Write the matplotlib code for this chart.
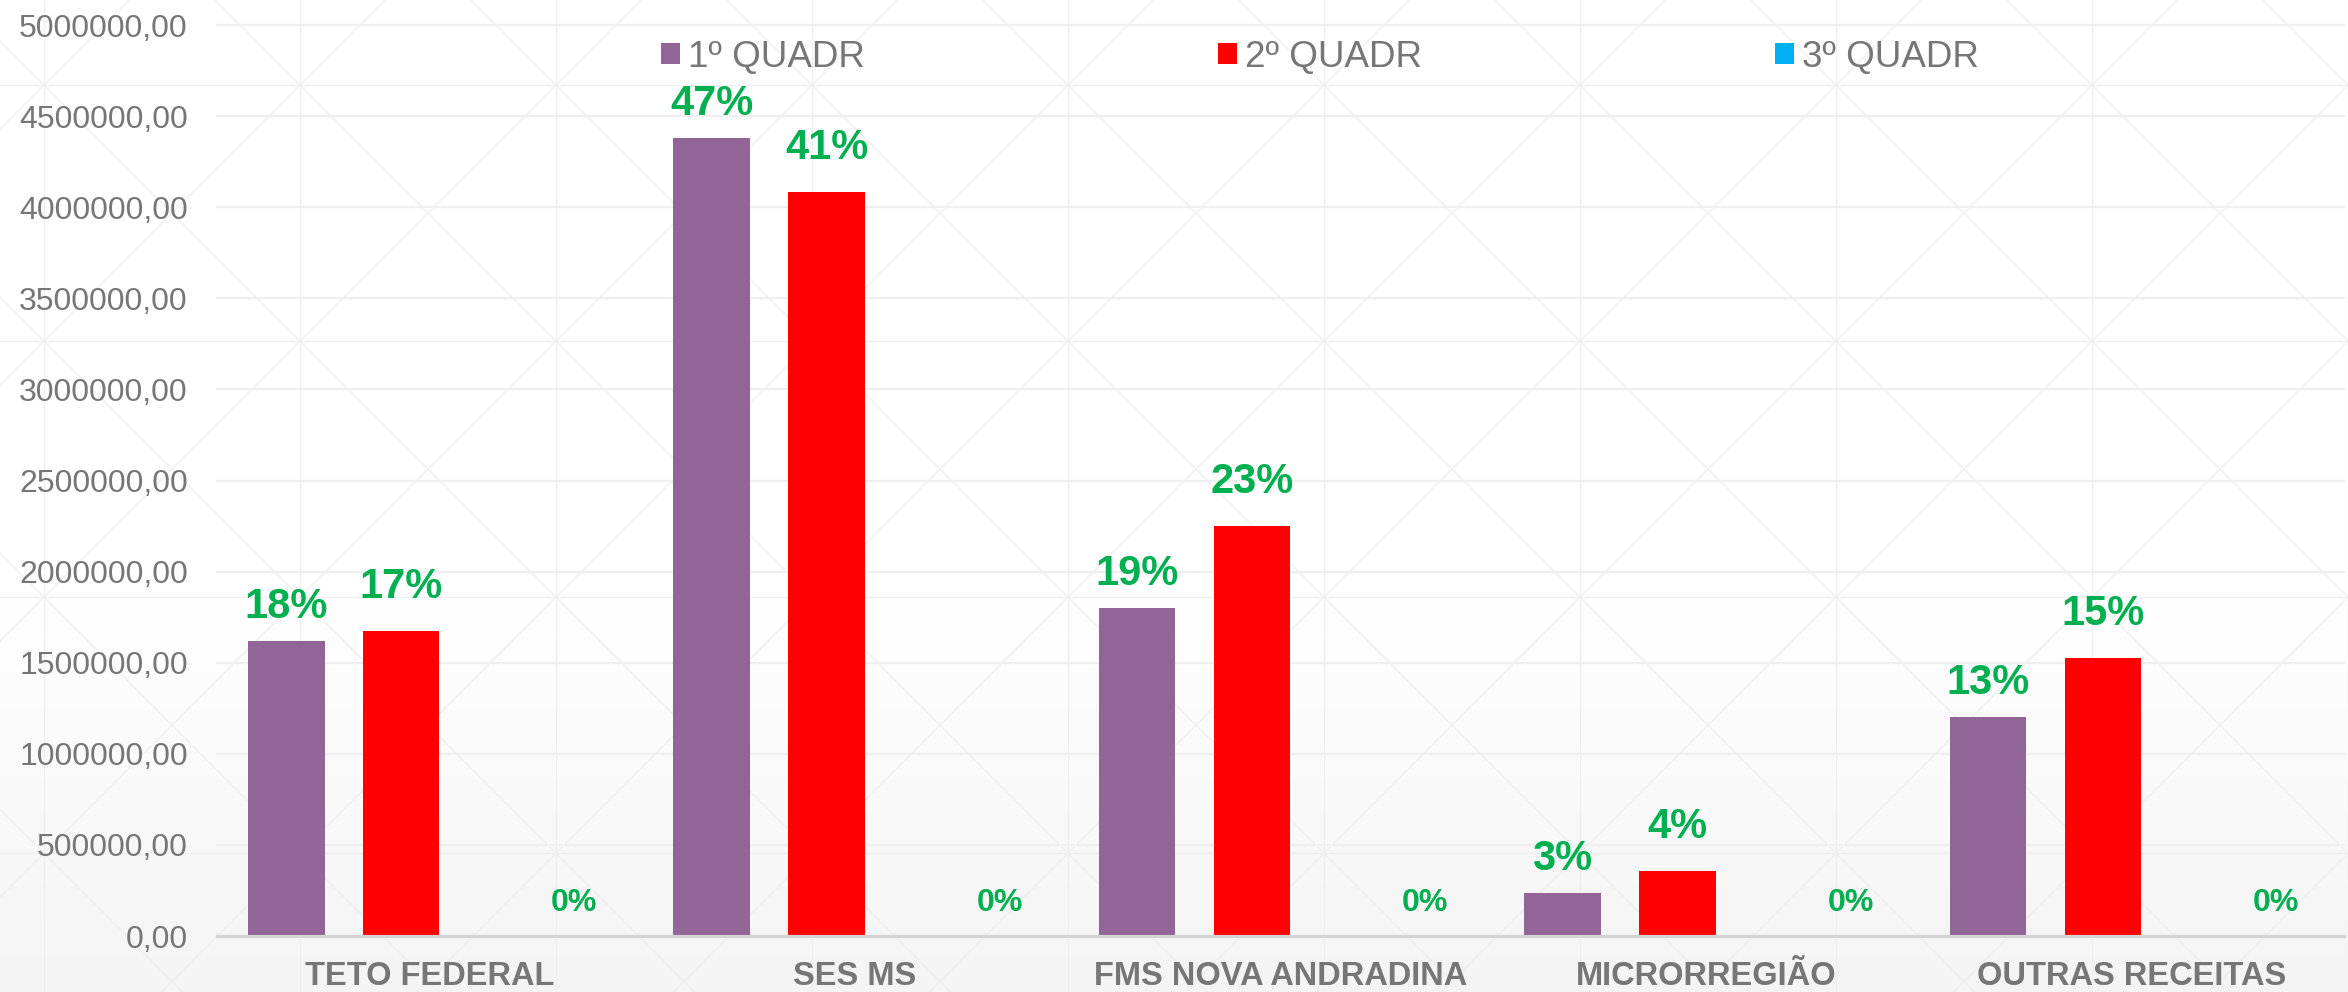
import numpy as np
import matplotlib
matplotlib.use("Agg")
import matplotlib.pyplot as plt
from matplotlib.ticker import FuncFormatter, MultipleLocator
from matplotlib.patches import Patch

# ---- data ----
categories = ["TETO FEDERAL", "SES MS", "FMS NOVA ANDRADINA", "MICRORREGIÃO", "OUTRAS RECEITAS"]
series_names = ["1º QUADR", "2º QUADR", "3º QUADR"]
q1_values = [1620000, 4378000, 1800000, 236000, 1200000]
q2_values = [1674000, 4085000, 2252000, 358000, 1527000]
q3_values = [0, 0, 0, 0, 0]
q1_labels = ["18%", "47%", "19%", "3%", "13%"]
q2_labels = ["17%", "41%", "23%", "4%", "15%"]
q3_labels = ["0%", "0%", "0%", "0%", "0%"]

# ---- style ----
W, H, DPI = 2348, 992, 100
colors = ["#926597", "#FF0000", "#00B0F0"]
green = "#00B050"
gray_text = "#767676"
plt.rcParams['font.family'] = ['Liberation Sans', 'DejaVu Sans']

fig = plt.figure(figsize=(W / DPI, H / DPI), dpi=DPI)
fig.patch.set_facecolor("white")

# background: gradient + faint lattice pattern
bg = fig.add_axes([0, 0, 1, 1], zorder=-10)
bg.set_xlim(0, W)
bg.set_ylim(H, 0)
bg.axis("off")
rows = np.arange(H)
start = 600
t = np.clip((rows - start) / (H - start), 0, 1)
shade = 1.0 - t * (1.0 - 0xF4 / 255)
grad = np.repeat(shade[:, None], 2, axis=1)
bg.imshow(np.dstack([grad, grad, grad]), extent=[0, W, H, 0], aspect="auto",
          interpolation="bilinear", zorder=0)
lat_color = "#EEEEEE"
lw = 0.9
for xv in np.arange(44 - 256 * 2, W + 256, 256):
    bg.plot([xv, xv], [0, H], color=lat_color, lw=lw, zorder=1)
for yv in np.arange(85 - 256, H + 256, 256):
    bg.plot([0, W], [yv, yv], color=lat_color, lw=lw, zorder=1)
for c in np.arange(-41 - 256 * 6, W + 256, 256):
    bg.plot([c - 100, c + H + 100], [-100, H + 100], color=lat_color, lw=lw, zorder=1)
for c in np.arange(129 - 256 * 2, W + H + 512, 256):
    bg.plot([c + 100, c - H - 100], [-100, H + 100], color=lat_color, lw=lw, zorder=1)

# main axes
left, right, bottom_px, top_px = 217, 2344, 936, 25
ax = fig.add_axes([left / W, 1 - bottom_px / H, (right - left) / W, (bottom_px - top_px) / H])
ax.set_facecolor("none")

x = np.arange(len(categories))
offsets = [-0.337, -0.067, 0.34]
width = 0.18
all_vals = [q1_values, q2_values, q3_values]
all_labels = [q1_labels, q2_labels, q3_labels]
label_pad = [10, 17, 13]

for i, (vals, labs) in enumerate(zip(all_vals, all_labels)):
    ax.bar(x + offsets[i], vals, width, color=colors[i], zorder=3, label=series_names[i])
    for xi, v, lab in zip(x + offsets[i], vals, labs):
        fs = 23 if v == 0 else 30
        ax.annotate(lab, (xi, v), xytext=(0, label_pad[i]), textcoords="offset points",
                    ha="center", va="bottom", fontsize=fs, fontweight="bold", color=green,
                    zorder=5)

ax.set_xlim(-0.5, len(categories) - 0.5)
ax.set_ylim(0, 5000000)
ax.yaxis.set_major_locator(MultipleLocator(500000))
ax.yaxis.set_major_formatter(FuncFormatter(lambda v, p: f"{v:.2f}".replace(".", ",")))
ax.set_xticks(x)
ax.set_xticklabels(categories, fontsize=23.5, fontweight="bold", color=gray_text)
ax.tick_params(axis="y", length=0, pad=21, labelsize=23, labelcolor=gray_text)
ax.tick_params(axis="x", length=0, pad=18)
ax.grid(axis="y", color="#EFEFEF", lw=1.6, zorder=0)
for g in ax.get_ygridlines():
    g.set_clip_on(False)
ax.set_axisbelow(True)
for s in ["top", "right", "left"]:
    ax.spines[s].set_visible(False)
ax.spines["bottom"].set_color("#D4D4D4")
ax.spines["bottom"].set_linewidth(2.3)
ax.spines["bottom"].set_zorder(4)

handles = [Patch(facecolor=c, edgecolor="none") for c in colors]
fs_leg = 26.5
em_px = fs_leg / 72 * DPI
leg = fig.legend(handles, series_names, loc="center", bbox_to_anchor=(1320 / W, 1 - 57 / H),
                 ncol=3, frameon=False, fontsize=fs_leg, handlelength=19 / em_px,
                 handleheight=19 / em_px, handletextpad=8 / em_px, columnspacing=353 / em_px,
                 borderpad=0, borderaxespad=0)
for t_ in leg.get_texts():
    t_.set_color(gray_text)

fig.savefig("out.png", dpi=DPI, facecolor="white")
